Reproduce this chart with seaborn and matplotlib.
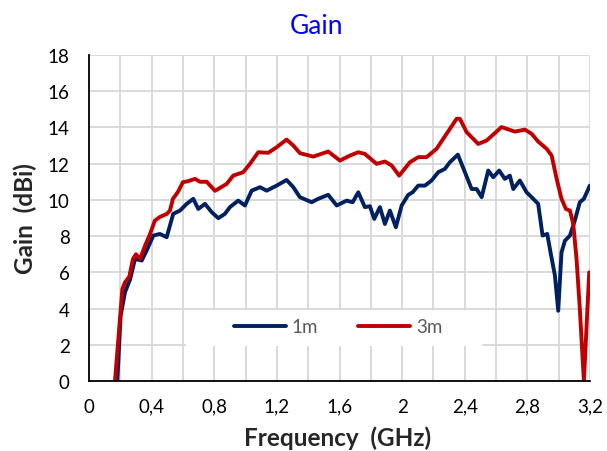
import matplotlib
matplotlib.use("Agg")
import matplotlib.pyplot as plt
from matplotlib.patches import Rectangle
from matplotlib.lines import Line2D
import seaborn as sns
import pandas as pd
import numpy as np

# ---- data ----
freq_1m = [0.181, 0.202, 0.230, 0.262, 0.294, 0.337, 0.368, 0.411, 0.453, 0.496,
           0.538, 0.581, 0.624, 0.666, 0.698, 0.741, 0.784, 0.826, 0.868, 0.900,
           0.953, 0.996, 1.039, 1.092, 1.135, 1.199, 1.262, 1.305, 1.347, 1.422,
           1.464, 1.528, 1.582, 1.603, 1.646, 1.684, 1.720, 1.762, 1.794, 1.822,
           1.858, 1.890, 1.922, 1.960, 1.997, 2.039, 2.067, 2.103, 2.146, 2.188,
           2.231, 2.273, 2.305, 2.356, 2.401, 2.444, 2.476, 2.508, 2.550, 2.582,
           2.620, 2.656, 2.688, 2.710, 2.752, 2.795, 2.827, 2.869, 2.897, 2.927,
           2.948, 2.976, 2.997, 3.018, 3.040, 3.072, 3.103, 3.135, 3.161, 3.199]
gain_1m = [0.0, 3.6, 4.9, 5.6, 6.74, 6.65, 7.2, 8.03, 8.12, 7.94,
           9.23, 9.41, 9.78, 10.06, 9.5, 9.78, 9.32, 8.99, 9.23, 9.6,
           9.96, 9.69, 10.51, 10.7, 10.51, 10.79, 11.1, 10.7, 10.15, 9.87,
           10.06, 10.28, 9.69, 9.78, 9.96, 9.87, 10.42, 9.6, 9.65, 8.95,
           9.6, 8.67, 9.41, 8.49, 9.69, 10.28, 10.42, 10.79, 10.79, 11.07,
           11.53, 11.71, 12.08, 12.5, 11.53, 10.6, 10.6, 10.15, 11.62, 11.25,
           11.62, 11.16, 11.34, 10.6, 11.07, 10.42, 10.15, 9.78, 8.03, 8.12,
           7.1, 5.82, 3.88, 7.1, 7.75, 8.03, 8.86, 9.87, 10.06, 10.79]

freq_3m = [0.166, 0.213, 0.230, 0.257, 0.281, 0.300, 0.326, 0.358, 0.390, 0.421,
           0.453, 0.496, 0.517, 0.536, 0.568, 0.600, 0.632, 0.677, 0.709, 0.752,
           0.805, 0.879, 0.921, 0.985, 1.028, 1.081, 1.145, 1.199, 1.262, 1.305,
           1.347, 1.432, 1.528, 1.603, 1.667, 1.720, 1.762, 1.837, 1.890, 1.933,
           1.981, 2.050, 2.103, 2.156, 2.220, 2.284, 2.348, 2.369, 2.412, 2.486,
           2.540, 2.635, 2.720, 2.784, 2.827, 2.869, 2.923, 2.955, 2.987, 3.018,
           3.046, 3.072, 3.093, 3.114, 3.135, 3.161, 3.195]
gain_3m = [0.0, 5.08, 5.45, 5.75, 6.74, 7.0, 6.74, 7.47, 8.12, 8.86,
           9.06, 9.22, 9.41, 10.06, 10.44, 10.98, 11.03, 11.16, 11.0, 11.0,
           10.5, 10.88, 11.34, 11.53, 11.99, 12.63, 12.6, 12.91, 13.33, 13.0,
           12.58, 12.39, 12.67, 12.17, 12.45, 12.63, 12.54, 11.99, 12.12, 11.9,
           11.34, 12.08, 12.36, 12.36, 12.82, 13.65, 14.48, 14.48, 13.74, 13.09,
           13.28, 14.02, 13.77, 13.88, 13.65, 13.22, 12.82, 12.45, 11.16, 10.06,
           9.5, 9.41, 8.67, 6.74, 3.98, 0.0, 6.0]

series_names = ["1m", "3m"]
x_ticks = [0, 0.4, 0.8, 1.2, 1.6, 2.0, 2.4, 2.8, 3.2]
x_tick_labels = ["0", "0,4", "0,8", "1,2", "1,6", "2", "2,4", "2,8", "3,2"]
y_ticks = [0, 2, 4, 6, 8, 10, 12, 14, 16, 18]

df = pd.DataFrame({
    "Frequency": freq_1m + freq_3m,
    "Gain": gain_1m + gain_3m,
    "Series": [series_names[0]] * len(freq_1m) + [series_names[1]] * len(freq_3m),
})

sns.set_style("white")
plt.rcParams["font.family"] = ["Lato", "DejaVu Sans"]

fig = plt.figure(figsize=(6.07, 4.52), dpi=100)
ax = fig.add_axes([89 / 607, 1 - 382 / 452, 501 / 607, 326 / 452])

palette = {"1m": "#002060", "3m": "#C00000"}
sns.lineplot(data=df, x="Frequency", y="Gain", hue="Series", palette=palette,
             linewidth=2.8, ax=ax, sort=False, estimator=None,
             solid_joinstyle="round", solid_capstyle="round", legend=False)

ax.set_xlim(0, 3.2)
ax.set_ylim(0, 18)
ax.set_xticks(x_ticks)
ax.set_xticklabels(x_tick_labels)
ax.set_yticks(y_ticks)
ax.set_xticks(np.arange(0, 3.21, 0.2), minor=True)
ax.set_axisbelow(True)
ax.grid(True, which="both", axis="x", color="#d9d9d9", linewidth=1.4)
ax.grid(True, which="major", axis="y", color="#d9d9d9", linewidth=1.4)
ax.tick_params(axis="both", which="both", length=0, labelsize=13.5, colors="#000000")
ax.tick_params(axis="x", pad=12)
ax.tick_params(axis="y", pad=14)

for s in ["top", "right"]:
    ax.spines[s].set_visible(False)
for s in ["left", "bottom"]:
    ax.spines[s].set_color("#000000")
    ax.spines[s].set_linewidth(1.3)

ax.set_xlabel("Frequency  (GHz)", fontsize=17.5, fontweight="bold")
ax.set_ylabel("Gain  (dBi)", fontsize=17.5, fontweight="bold")
ax.xaxis.set_label_coords((338 - 89) / 501, (382 - 438) / 326)
ax.xaxis.label.set_va("center")
ax.yaxis.set_label_coords((25 - 89) / 501, (382 - 219) / 326)
ax.yaxis.label.set_va("center")

fig.text(317 / 607, 1 - 26 / 452, "Gain", color="#0000FF", fontsize=19,
         ha="center", va="center")

# legend box
ax.add_patch(Rectangle((0.1945, 0.107), 0.59, 0.11, transform=ax.transAxes,
                       facecolor="white", edgecolor="none", zorder=3))
handles = [Line2D([0], [0], color=palette[n], linewidth=2.8, solid_capstyle="round")
           for n in series_names]
leg = ax.legend(handles, series_names, loc="center", bbox_to_anchor=(0.497, 0.166),
                ncol=2, frameon=False, fontsize=13.5, handlelength=2.8,
                handletextpad=0.3, columnspacing=2.1, labelcolor="#595959")
leg.set_zorder(4)

fig.savefig("out.png", dpi=100)
